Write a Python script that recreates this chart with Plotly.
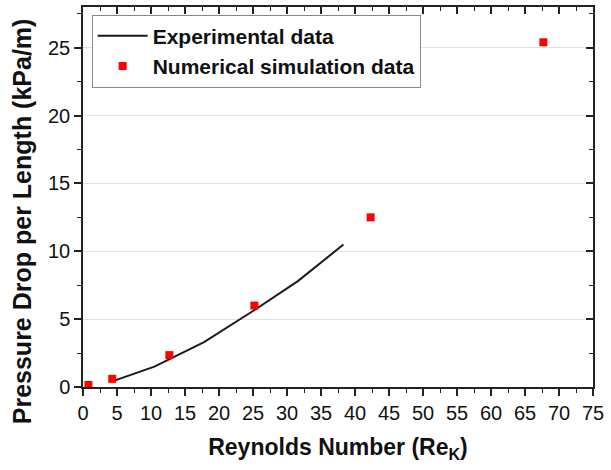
import plotly.graph_objects as go

# Experimental measurements (solid line)
exp_re = [4.5, 10.5, 17.8, 25.0, 31.6, 38.3]
exp_dp = [0.45, 1.5, 3.3, 5.6, 7.8, 10.5]

# Numerical simulation results (red squares)
sim_re = [0.8, 4.3, 12.7, 25.2, 42.3, 67.7]
sim_dp = [0.15, 0.6, 2.35, 6.0, 12.5, 25.4]

x_ticks = list(range(0, 80, 5))
y_ticks = [0, 5, 10, 15, 20, 25]

FONT = "Liberation Sans, Arial, sans-serif"

fig = go.Figure()
fig.add_trace(go.Scatter(
    x=exp_re, y=exp_dp, mode="lines", name="<b>Experimental data</b>",
    line=dict(color="#1a1a1a", width=2),
))
fig.add_trace(go.Scatter(
    x=sim_re, y=sim_dp, mode="markers", name="<b>Numerical simulation data</b>",
    marker=dict(symbol="square", color="#ff0000", size=8, line=dict(width=0)),
))

common_axis = dict(
    showline=True, linecolor="#222", linewidth=1.5,
    zeroline=False,
)

fig.update_layout(
    width=611, height=470,
    margin=dict(l=83, r=14, t=7, b=83),
    paper_bgcolor="white", plot_bgcolor="white",
    font=dict(family=FONT, size=20, color="#111"),
    showlegend=True,
    legend=dict(
        x=0.017, y=0.98, xanchor="left", yanchor="top",
        bgcolor="white", bordercolor="#888", borderwidth=1,
        font=dict(size=21, color="#111"),
        tracegroupgap=0, itemwidth=50,
    ),
    xaxis=dict(
        range=[0, 75], tickvals=x_ticks, ticktext=[str(v) for v in x_ticks],
        ticks="outside", ticklen=7, tickwidth=1.5, tickcolor="#222",
        minor=dict(dtick=2.5, ticks="outside", ticklen=4, tickwidth=1.2, tickcolor="#222"),
        showgrid=False,
        title=dict(text="<b>Reynolds Number (Re<sub>K</sub>)</b>", font=dict(size=23), standoff=16),
        tickfont=dict(size=20),
        **common_axis,
    ),
    yaxis=dict(
        range=[0, 28], tickvals=y_ticks, ticktext=[str(v) for v in y_ticks],
        ticks="outside", ticklen=7, tickwidth=1.5, tickcolor="#222",
        minor=dict(dtick=2.5, ticks="outside", ticklen=4, tickwidth=1.2, tickcolor="#222", showgrid=False),
        showgrid=True, gridcolor="#e3e3e3", gridwidth=1.2,
        tickfont=dict(size=20),
        **common_axis,
    ),
    # Mirrored frame with inward ticks on top and right
    xaxis2=dict(
        overlaying="x", side="top", range=[0, 75], tickvals=x_ticks,
        showticklabels=False, ticks="inside", ticklen=7, tickwidth=1.5, tickcolor="#222",
        minor=dict(dtick=2.5, ticks="inside", ticklen=4, tickwidth=1.2, tickcolor="#222"),
        showgrid=False, **common_axis,
    ),
    yaxis2=dict(
        overlaying="y", side="right", range=[0, 28], tickvals=y_ticks,
        showticklabels=False, ticks="inside", ticklen=7, tickwidth=1.5, tickcolor="#222",
        minor=dict(dtick=2.5, ticks="inside", ticklen=4, tickwidth=1.2, tickcolor="#222", showgrid=False),
        showgrid=False, **common_axis,
    ),
)

# Y-axis title placed as a rotated annotation
fig.add_annotation(
    text="<b>Pressure Drop per Length (kPa/m)</b>",
    xref="paper", yref="paper", x=-0.119, y=0.437,
    xanchor="center", yanchor="middle", textangle=-90,
    showarrow=False, font=dict(size=25, family=FONT, color="#111"),
)

# Invisible trace to activate the mirrored axes
fig.add_trace(go.Scatter(x=[None], y=[None], xaxis="x2", yaxis="y2",
                         showlegend=False, hoverinfo="skip"))

fig.write_html("out.html")
